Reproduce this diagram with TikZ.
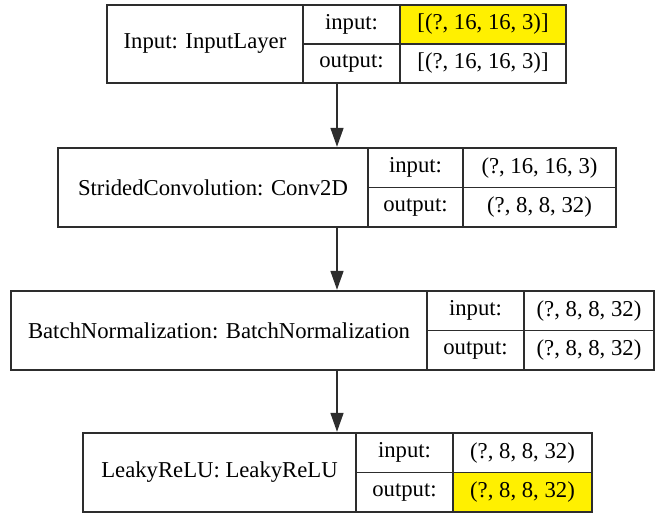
\documentclass[tikz,border=0pt]{standalone}
\usepackage{fontspec}
\setmainfont{Liberation Serif}
\usetikzlibrary{arrows.meta}
\definecolor{edgegray}{RGB}{45,45,45}
\definecolor{hlyellow}{RGB}{255,240,0}
\tikzset{
  cell/.style={draw=edgegray, line width=1.4pt, rectangle, inner sep=0pt, anchor=center,
    font=\fontsize{22.7}{27}\selectfont, text=black},
  hl/.style={fill=hlyellow},
  arr/.style={draw=edgegray, line width=1.6pt, -{Triangle[width=13pt,length=19pt]}, shorten >=0.5pt}
}
\begin{document}
\begin{tikzpicture}[x=1pt,y=-1pt]
\useasboundingbox (0,0) rectangle (656,513);
% Box 1
\node[cell, minimum width=196pt, minimum height=78pt] (n1) at (205,44) {Input: InputLayer};
\node[cell, minimum width=97pt, minimum height=39pt] (li1) at (351.5,24.5) {input:};
\node[cell, minimum width=97pt, minimum height=39pt] (lo1) at (351.5,63.5) {output:};
\node[cell, hl, minimum width=166pt, minimum height=39pt] (vi1) at (483,24.5) {[(?, 16, 16, 3)]};
\node[cell, minimum width=166pt, minimum height=39pt] (vo1) at (483,63.5) {[(?, 16, 16, 3)]};
% Box 2
\node[cell, minimum width=310pt, minimum height=79pt] (n2) at (213,187.5) {StridedConvolution: Conv2D};
\node[cell, minimum width=95pt, minimum height=39.5pt] (li2) at (415.5,167.75) {input:};
\node[cell, minimum width=95pt, minimum height=39.5pt] (lo2) at (415.5,207.25) {output:};
\node[cell, minimum width=153pt, minimum height=39.5pt] (vi2) at (539.5,167.75) {(?, 16, 16, 3)};
\node[cell, minimum width=153pt, minimum height=39.5pt] (vo2) at (539.5,207.25) {(?, 8, 8, 32)};
% Box 3
\node[cell, minimum width=416pt, minimum height=79pt] (n3) at (219,330.5) {BatchNormalization: BatchNormalization};
\node[cell, minimum width=97pt, minimum height=39.5pt] (li3) at (475.5,310.75) {input:};
\node[cell, minimum width=97pt, minimum height=39.5pt] (lo3) at (475.5,350.25) {output:};
\node[cell, minimum width=130pt, minimum height=39.5pt] (vi3) at (589,310.75) {(?, 8, 8, 32)};
\node[cell, minimum width=130pt, minimum height=39.5pt] (vo3) at (589,350.25) {(?, 8, 8, 32)};
% Box 4
\node[cell, minimum width=273pt, minimum height=79pt] (n4) at (219.5,472.5) {LeakyReLU: LeakyReLU};
\node[cell, minimum width=97pt, minimum height=39.5pt] (li4) at (404.5,452.75) {input:};
\node[cell, minimum width=97pt, minimum height=39.5pt] (lo4) at (404.5,492.25) {output:};
\node[cell, minimum width=139pt, minimum height=39.5pt] (vi4) at (522.5,452.75) {(?, 8, 8, 32)};
\node[cell, hl, minimum width=139pt, minimum height=39.5pt] (vo4) at (522.5,492.25) {(?, 8, 8, 32)};
% connectors
\coordinate (ax) at (337,0);
\draw[arr] (lo1.south -| ax) -- (n2.north -| ax);
\draw[arr] (n2.south -| ax) -- (n3.north -| ax);
\draw[arr] (n3.south -| ax) -- (n4.north -| ax);
\end{tikzpicture}
\end{document}
